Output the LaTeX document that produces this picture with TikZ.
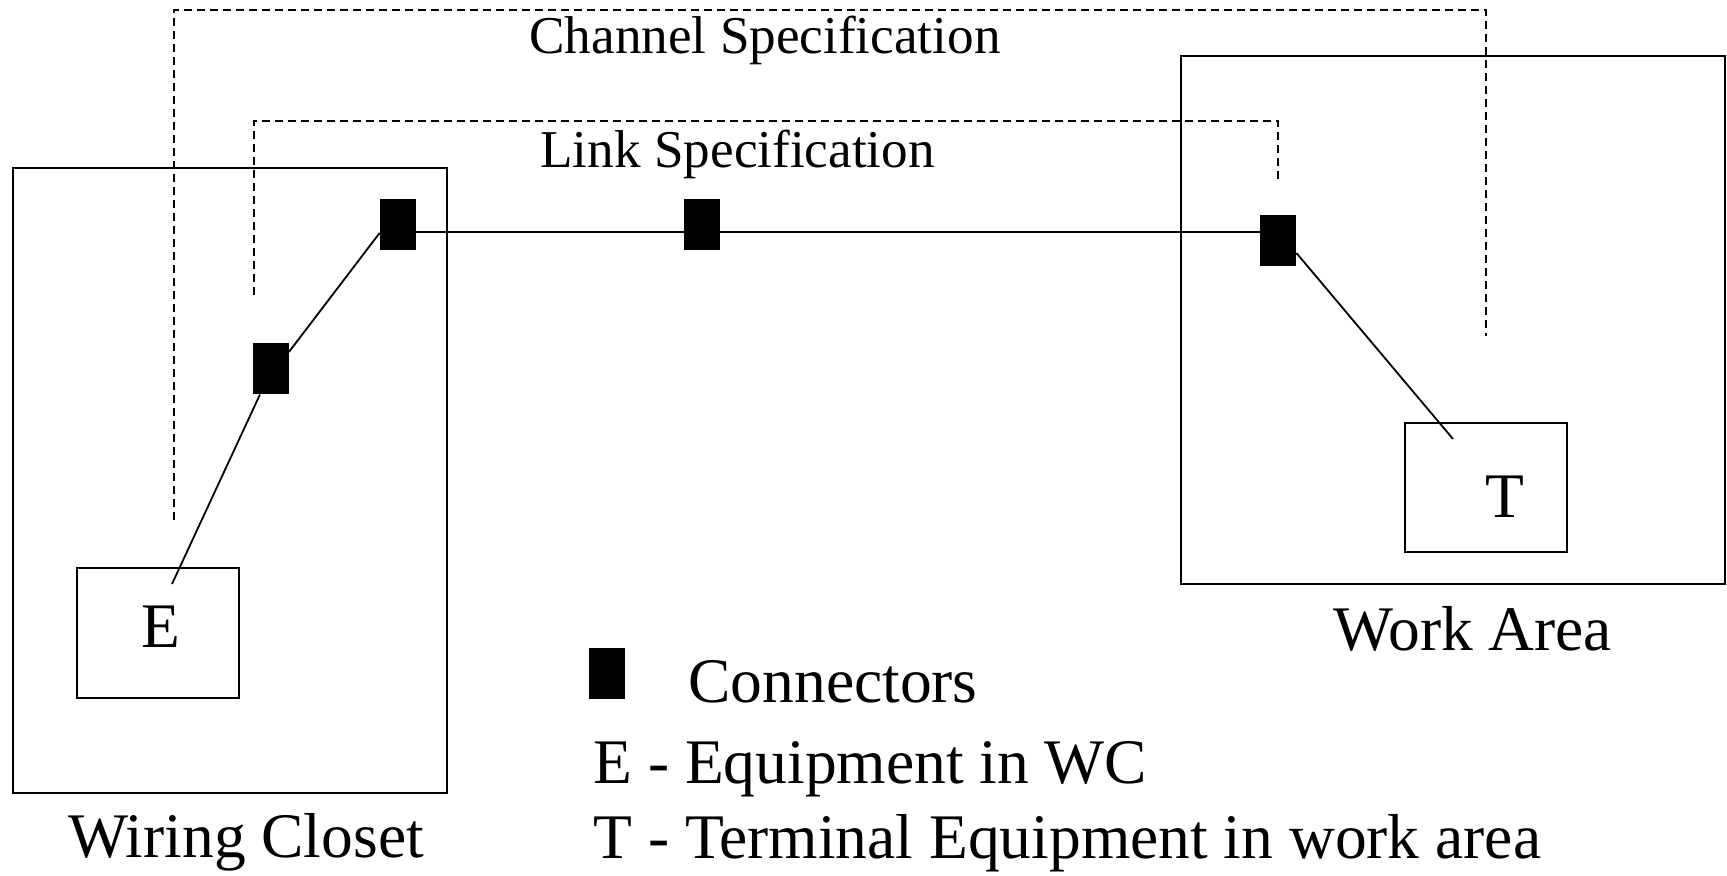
\documentclass[tikz,border=0pt]{standalone}
\usepackage{fontspec}
\setmainfont{Liberation Serif}
\usetikzlibrary{calc}
\begin{document}
\begin{tikzpicture}[x=0.5pt,y=-0.5pt,
  conn/.style={fill=black,inner sep=0pt,minimum width=18pt,minimum height=25.5pt},
  room/.style={draw,line width=1.1pt,inner sep=0pt},
  wire/.style={line width=0.9pt},
  spec/.style={line width=0.9pt,dash pattern=on 4pt off 2.5pt},
  bigtxt/.style={inner sep=0pt,anchor=base west,font=\fontsize{31.75}{38}\selectfont},
  spectxt/.style={inner sep=0pt,anchor=base west,font=\fontsize{26.6}{32}\selectfont}]
\useasboundingbox (0,0) rectangle (1727,875);
% rooms and equipment boxes
\node[room,minimum width=217pt,minimum height=312.5pt] (wc) at (230,480.5) {};
\node[room,minimum width=272pt,minimum height=264pt] (wa) at (1453,320) {};
\node[room,minimum width=81pt,minimum height=65pt] (ebox) at (158,633) {};
\node[room,minimum width=81pt,minimum height=64.5pt] (tbox) at (1486,487.5) {};
\node[bigtxt,anchor=center] (elab) at (161,627) {E};
\node[bigtxt,anchor=center] (tlab) at (1505,497) {T};
% connectors
\node[conn] (c1) at (398,224.5) {};
\node[conn] (c2) at (702,224.5) {};
\node[conn] (c3) at (270.5,368.5) {};
\node[conn] (c4) at (1278,240.5) {};
\node[conn] (lg) at (606.5,673.5) {};
% wires
\coordinate (hl) at (0,232);
\draw[wire] (c1.east |- hl) -- (c4.west |- hl);
\draw[wire] ($(c1.west)+(0,8.5)$) -- ($(c3.east)+(0,-16.5)$);
\draw[wire] ($(c3.south)+(-10.5,0)$) -- ($(ebox.center)+(14,-49)$);
\draw[wire] ($(c4.east)+(0,12.5)$) -- ($(tbox.center)+(-33,-48.5)$);
% specification brackets
\coordinate (chA) at (174,520);
\coordinate (chB) at (1486,336);
\coordinate (lkA) at (254,295);
\coordinate (lkB) at (1278,183);
\draw[spec] (chA) -- (chA |- 0,10) -- (chB |- 0,10) -- (chB);
\draw[spec] (lkA) -- (lkA |- 0,121) -- (lkB |- 0,121) -- (lkB);
% texts
\node[spectxt] (chan) at (529,53) {Channel Specification};
\node[spectxt] (link) at (540,167) {Link Specification};
\node[bigtxt] (wcl) at (68,857) {Wiring Closet};
\node[bigtxt] (wal) at (1333,650) {Work Area};
\node[bigtxt] (l1) at (688,702) {Connectors};
\node[bigtxt] (l2) at (593,783) {E - Equipment in WC};
\node[bigtxt] (l3) at (593,858) {T - Terminal Equipment in work area};
\end{tikzpicture}
\end{document}
